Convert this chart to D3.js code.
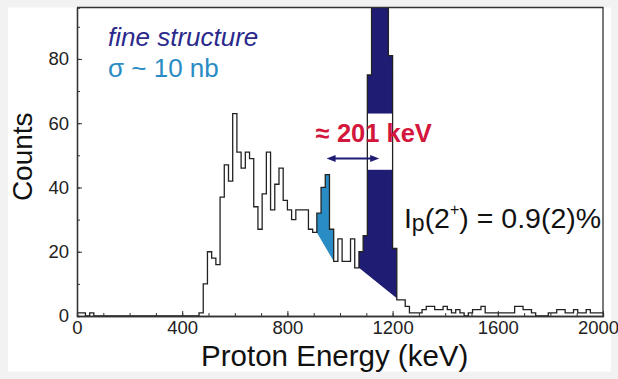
<!DOCTYPE html>
<html>
<head>
<meta charset="utf-8">
<script src="https://cdn.jsdelivr.net/npm/d3@7"></script>
<style>
  body { margin: 0; background: #f2f2f2; }
  svg { display: block; font-family: 'Liberation Sans', Arial, Helvetica, sans-serif; }
</style>
</head>
<body>
<div id="graph"></div>
<script>
// histogram: 16 keV bins starting at 0 keV
const binWidth = 16
const counts = [
  1, 1, 0, 1, 0, 0, 0, 0, 0, 0,
  0, 0, 0, 0, 0, 0, 0, 0, 0, 0,
  0, 0, 0, 0, 0, 0, 0, 0, 0, 1,
  10, 20, 18, 16, 37, 47, 42, 63, 51, 46,
  51, 49, 34, 27, 38, 51, 33, 41, 46, 36,
  33, 30, 33, 33, 33, 27, 26, 32, 40, 44,
  27, 17, 24, 17, 17, 24, 15, 20, 25, 75,
  118, 142, 136, 104, 81, 21, 5, 5, 3, 1,
  1, 1, 2, 3, 3, 2, 2, 3, 2, 1,
  2, 1, 0, 1, 2, 2, 3, 1, 1, 1,
  1, 1, 1, 1, 3, 3, 2, 2, 1, 0,
  0, 0, 1, 1, 2, 2, 1, 1, 2, 1,
  1, 2, 1, 1, 1
]

// highlighted peaks: energy range and linear background (counts at both ends)
const fineRange = [912, 976]
const fineBackground = [26, 17]
const mainRange = [1072, 1216]
const mainBackground = [15, 5.5]
const labelGap = [45.5, 63] // counts hidden behind the annotation

// annotation anchors (keV, counts)
const arrowEnergies = [949, 1149]
const arrowCount = 49

const xTicks = [0, 400, 800, 1200, 1600, 2000]
const xMinorTicks = d3.range(0, 2001, 100)
const yTicks = [0, 20, 40, 60, 80]
const yMinorTicks = d3.range(0, 91, 10)

const margins = { top: 7.5, right: 15, bottom: 63, left: 77 }
const width = 618 - margins.left - margins.right
const height = 379 - margins.top - margins.bottom

const navy = '#1f1c74'
const lightBlue = '#2a8cc4'

const root = d3.select('#graph')
  .append('svg')
  .attr('width', 618)
  .attr('height', 379)

root.append('rect')
  .attr('x', 8)
  .attr('y', margins.top)
  .attr('width', 603)
  .attr('height', 364)
  .attr('fill', '#fff')

const svg = root.append('g')
  .attr('transform', `translate(${margins.left}, ${margins.top})`)

const x = d3.scaleLinear([0, 2000], [0, width])
const y = d3.scaleLinear([0, 96], [height, 0])

svg.append('defs').append('clipPath')
  .attr('id', 'clip')
  .append('rect')
  .attr('width', width)
  .attr('height', height)

const plot = svg.append('g').attr('clip-path', 'url(#clip)')

const toPath = d3.line().x(d => x(d[0])).y(d => y(d[1]))

function peakShape (range, background) {
  const pts = [[range[0], background[0]]]
  for (let i = range[0] / binWidth; i < range[1] / binWidth; i++) {
    pts.push([i * binWidth, counts[i]], [(i + 1) * binWidth, counts[i]])
  }
  pts.push([range[1], background[1]])
  return toPath(pts) + 'Z'
}

plot.append('path')
  .attr('d', peakShape(fineRange, fineBackground))
  .attr('fill', lightBlue)

plot.append('path')
  .attr('d', peakShape(mainRange, mainBackground))
  .attr('fill', navy)

// white window behind the label
plot.append('rect')
  .attr('x', x(1104))
  .attr('width', x(1200) - x(1104))
  .attr('y', y(labelGap[1]))
  .attr('height', y(labelGap[0]) - y(labelGap[1]))
  .attr('fill', '#fff')

const histPoints = counts.map((c, i) => [i * binWidth, c])
histPoints.push([counts.length * binWidth, counts[counts.length - 1]])

plot.append('path')
  .datum(histPoints)
  .attr('fill', 'none')
  .attr('stroke', '#222')
  .attr('stroke-width', 1.3)
  .attr('d', d3.line().x(d => x(d[0])).y(d => y(d[1])).curve(d3.curveStepAfter))

// double arrow
const ay = y(arrowCount)
const ax0 = x(arrowEnergies[0])
const ax1 = x(arrowEnergies[1])
svg.append('line')
  .attr('x1', ax0 + 6).attr('x2', ax1 - 6)
  .attr('y1', ay).attr('y2', ay)
  .attr('stroke', navy)
  .attr('stroke-width', 2)
svg.append('path')
  .attr('d', `M${ax0},${ay}l9,-3.5v7Z M${ax1},${ay}l-9,-3.5v7Z`)
  .attr('fill', navy)

// axes
const xMinorAxis = svg.append('g').attr('transform', `translate(0, ${height})`)
xMinorAxis.call(d3.axisBottom(x).tickValues(xMinorTicks).tickSize(-3).tickFormat(''))
const xAxis = svg.append('g').attr('transform', `translate(0, ${height})`)
xAxis.call(d3.axisBottom(x).tickValues(xTicks).tickFormat(d3.format('d'))
  .tickSizeInner(-5).tickSizeOuter(0).tickPadding(5))

const yMinorAxis = svg.append('g')
yMinorAxis.call(d3.axisLeft(y).tickValues(yMinorTicks).tickSize(-3).tickFormat(''))
const yAxis = svg.append('g')
yAxis.call(d3.axisLeft(y).tickValues(yTicks).tickFormat(d3.format('d'))
  .tickSizeInner(-5).tickSizeOuter(0).tickPadding(8))

svg.selectAll('.domain').attr('stroke', '#333').attr('stroke-width', 1.3)
svg.selectAll('.tick line').attr('stroke', '#333').attr('stroke-width', 1)
svg.selectAll('.tick text')
  .attr('font-size', 18.5)
  .attr('font-family', 'Liberation Sans, Arial, sans-serif')
  .attr('fill', '#222')

// last label sits a little left of its tick, as in the original
xAxis.selectAll('.tick text').filter(d => d === 2000).attr('dx', -5)

svg.append('path')
  .attr('d', `M0,0H${width}V${height}`)
  .attr('fill', 'none')
  .attr('stroke', '#333')
  .attr('stroke-width', 1.3)

// axis titles
svg.append('text')
  .attr('transform', `translate(${-45}, ${y(48) - 5}) rotate(-90)`)
  .attr('text-anchor', 'middle')
  .attr('font-size', 28)
  .attr('fill', '#111')
  .text('Counts')

svg.append('text')
  .attr('x', x(980))
  .attr('y', height + 50)
  .attr('text-anchor', 'middle')
  .attr('font-size', 29.5)
  .attr('fill', '#111')
  .text('Proton Energy (keV)')

// annotations
svg.append('text')
  .attr('x', x(118))
  .attr('y', y(84))
  .attr('font-size', 26)
  .attr('font-style', 'italic')
  .attr('fill', '#2b2a8c')
  .text('fine structure')

svg.append('text')
  .attr('x', x(118))
  .attr('y', y(74.3))
  .attr('font-size', 26)
  .attr('fill', lightBlue)
  .text('σ ~ 10 nb')

svg.append('text')
  .attr('x', x(908))
  .attr('y', y(54))
  .attr('font-size', 25.5)
  .attr('font-weight', 'bold')
  .attr('fill', '#d3163c')
  .text('≈ 201 keV')

const ip = svg.append('text')
  .attr('x', x(1243))
  .attr('y', y(27.5))
  .attr('font-size', 28.5)
  .attr('fill', '#111')
ip.append('tspan').text('I')
ip.append('tspan').attr('font-size', 23).attr('dy', 3).text('p')
ip.append('tspan').attr('dy', -3).text('(2')
ip.append('tspan').attr('font-size', 16).attr('dy', -13).text('+')
ip.append('tspan').attr('dy', 13).text(') = 0.9(2)%')
</script>
</body>
</html>
